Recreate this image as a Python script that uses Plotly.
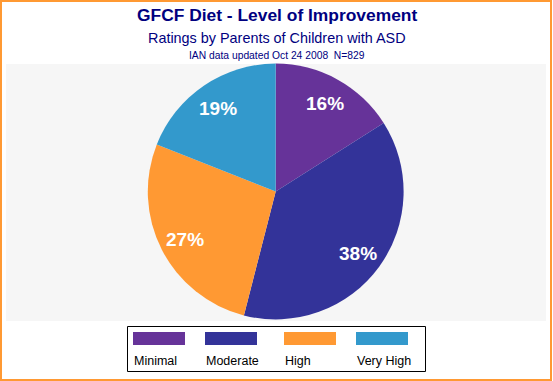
import math
import plotly.graph_objects as go

categories = ["Minimal", "Moderate", "High", "Very High"]
percents = [16, 38, 27, 19]
colors = ["#663399", "#333399", "#FF9933", "#3399CC"]

title = "GFCF Diet - Level of Improvement"
subtitle = "Ratings by Parents of Children with ASD"
note = "IAN data updated Oct 24 2008  N=829"

W, H = 553, 381
FONT = "Arial, Liberation Sans, sans-serif"

def px(x):
    return x / W

def py(y):
    return 1 - y / H

# pie geometry (pixels)
PX0, PX1 = 147.8, 403.6
PY0, PY1 = 63.6, 319.4
CX, CY = (PX0 + PX1) / 2, (PY0 + PY1) / 2
R = (PY1 - PY0) / 2

fig = go.Figure()
fig.add_trace(go.Pie(
    labels=categories,
    values=percents,
    marker=dict(colors=colors, line=dict(width=0)),
    sort=False,
    direction="clockwise",
    rotation=0,
    textinfo="none",
    showlegend=False,
    hoverinfo="label+percent",
    domain=dict(x=[px(PX0), px(PX1)], y=[py(PY1), py(PY0)]),
))

shapes = []
shapes.append(dict(type="rect", xref="paper", yref="paper",
                   x0=px(1), x1=px(551), y0=py(380), y1=py(1),
                   line=dict(color="#FF9933", width=2), fillcolor="rgba(0,0,0,0)", layer="above"))
shapes.append(dict(type="rect", xref="paper", yref="paper",
                   x0=px(6), x1=px(546), y0=py(321), y1=py(64),
                   line=dict(width=0), fillcolor="#F6F6F6", layer="below"))
shapes.append(dict(type="rect", xref="paper", yref="paper",
                   x0=px(127.5), x1=px(425.5), y0=py(371.5), y1=py(326.5),
                   line=dict(color="black", width=1), fillcolor="white", layer="below"))

annotations = [
    dict(text="<b>" + title + "</b>", x=0.5, y=py(15), xref="paper", yref="paper",
         showarrow=False, xanchor="center", yanchor="middle",
         font=dict(family=FONT, size=17.4, color="#000080")),
    dict(text=subtitle, x=0.5, y=py(38), xref="paper", yref="paper",
         showarrow=False, xanchor="center", yanchor="middle",
         font=dict(family=FONT, size=14.4, color="#000080")),
    dict(text=note, x=0.5, y=py(55), xref="paper", yref="paper",
         showarrow=False, xanchor="center", yanchor="middle",
         font=dict(family=FONT, size=10.3, color="#000080")),
]

# percentage labels, placed from the data at the slice mid-angle
total = sum(percents)
cum = 0.0
for v in percents:
    mid = (cum + v / 2) / total * 2 * math.pi
    cum += v
    lx = CX + 0.8 * R * math.sin(mid)
    ly = CY - 0.8 * R * math.cos(mid)
    annotations.append(dict(text="<b>%d%%</b>" % round(100 * v / total),
                            x=px(lx), y=py(ly + 1.5), xref="paper", yref="paper",
                            showarrow=False, xanchor="center", yanchor="middle",
                            font=dict(family=FONT, size=19, color="white")))

legend_x = [133, 205, 284, 356]
for cat, col, lx in zip(categories, colors, legend_x):
    shapes.append(dict(type="rect", xref="paper", yref="paper",
                       x0=px(lx), x1=px(lx + 52), y0=py(345), y1=py(332),
                       line=dict(width=0), fillcolor=col, layer="above"))
    annotations.append(dict(text=cat, x=px(lx - 1), y=py(360.5), xref="paper", yref="paper",
                            showarrow=False, xanchor="left", yanchor="middle",
                            font=dict(family=FONT, size=12.5, color="black")))

fig.update_layout(
    width=W, height=H,
    margin=dict(l=0, r=0, t=0, b=0),
    paper_bgcolor="white",
    plot_bgcolor="white",
    shapes=shapes,
    annotations=annotations,
)

fig.write_html("out.html",
               config={"displayModeBar": False},
               post_script="document.body.style.margin='0';document.body.style.overflow='hidden';")
